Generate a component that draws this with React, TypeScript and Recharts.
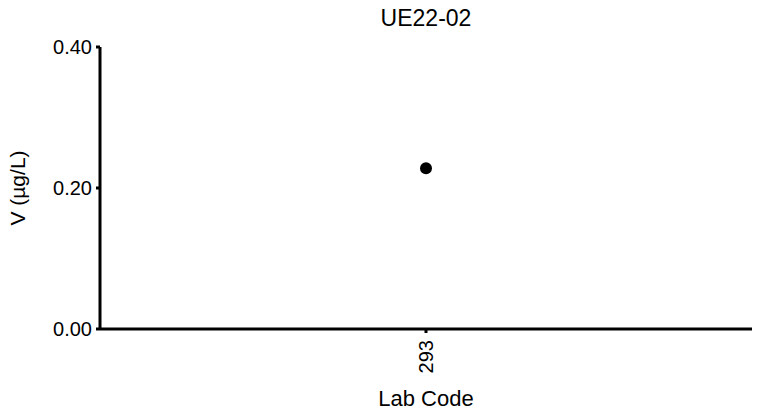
import { ScatterChart, Scatter, XAxis, YAxis, Label } from "recharts";

const labCodes = ["293"];
const values = [0.228];
const yTicks = [0, 0.2, 0.4];

const data = labCodes.map((lab, i) => ({ lab, v: values[i] }));

const font = "Liberation Sans, Arial, sans-serif";

function RotatedTick(props: any) {
  const { x, y, payload } = props;
  return (
    <g transform={`translate(${x},${y}) rotate(-90)`}>
      <text textAnchor="end" dy="0.35em" fontSize={20} fill="#000" fontFamily={font}>
        {payload.value}
      </text>
    </g>
  );
}

export default function App() {
  return (
    <div style={{ position: "absolute", left: 0, top: 0 }}>
      <ScatterChart
        width={764}
        height={412}
        margin={{ top: 47, right: 12, bottom: 0, left: 0 }}
      >
        <text x={426} y={18} textAnchor="middle" dominantBaseline="central" fontSize={23} fontFamily={font} fill="#000">
          UE22-02
        </text>
        <XAxis
          dataKey="lab"
          type="category"
          allowDuplicatedCategory={false}
          stroke="#000"
          strokeWidth={3}
          tickSize={4}
          tickMargin={7}
          tick={<RotatedTick />}
          interval={0}
          height={83}
        >
          <Label value="Lab Code" position="insideBottom" offset={6} fontSize={22} fill="#000" fontFamily={font} />
        </XAxis>
        <YAxis
          dataKey="v"
          type="number"
          domain={[0, 0.4]}
          ticks={yTicks}
          tickFormatter={(t: number) => t.toFixed(2)}
          width={100}
          stroke="#000"
          strokeWidth={3}
          tickSize={4}
          tickMargin={4}
          tick={{ fontSize: 20, fill: "#000", fontFamily: font }}
        >
          <Label value="V (µg/L)" angle={-90} position="insideLeft" offset={18} fontSize={21} fill="#000" fontFamily={font} style={{ textAnchor: "middle" }} />
        </YAxis>
        <Scatter data={data} fill="#000" isAnimationActive={false} shape={(p: any) => <circle cx={p.cx} cy={p.cy} r={6} fill="#000" />} />
      </ScatterChart>
    </div>
  );
}
